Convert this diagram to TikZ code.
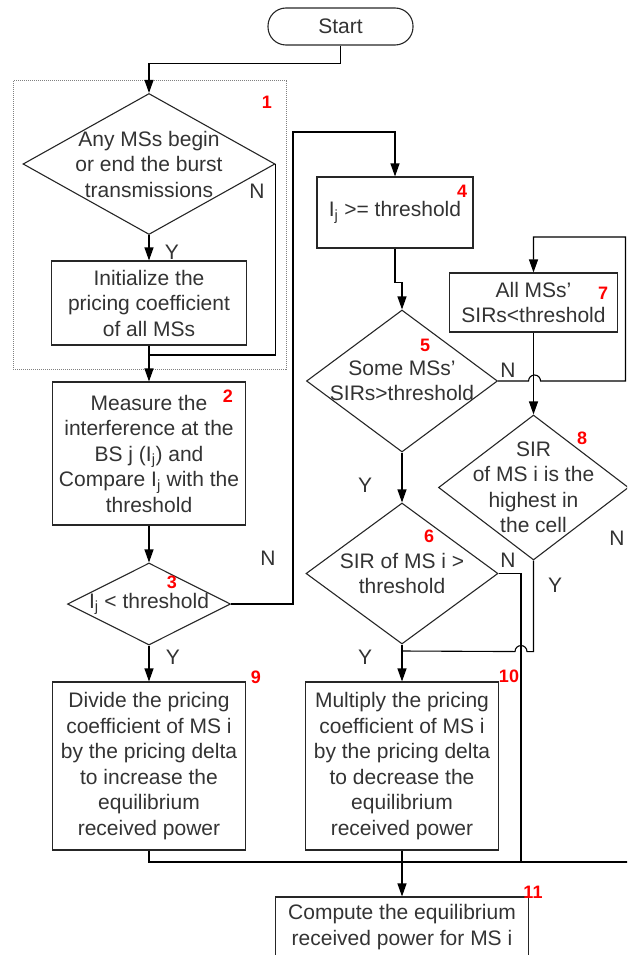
\documentclass[tikz,border=0pt]{standalone}
\usepackage{fontspec}
\setmainfont{Liberation Sans}
\usetikzlibrary{shapes.geometric,arrows.meta}

\begin{document}
\begin{tikzpicture}[x=1pt, y=-1pt,
  every node/.style={font=\fontsize{21}{25.5}\selectfont, text=black!80},
  terminal/.style={draw=black!85, line width=1.1pt, rounded corners=18pt, minimum width=145, minimum height=37, inner sep=0pt},
  proc/.style={draw=black!85, line width=1.1pt, rectangle, align=center, inner sep=0pt},
  decision/.style={draw=black!85, line width=1.1pt, diamond, inner sep=0pt},
  dtext/.style={align=center, inner sep=0pt},
  group/.style={draw=gray, densely dotted, line width=1pt, inner sep=0pt},
  tag/.style={font=\fontsize{18}{18}\selectfont\bfseries, text=red, inner sep=0pt},
  yn/.style={inner sep=0pt},
  line/.style={draw=black, line width=1.1pt},
  arr/.style={line, -{Triangle[length=13pt,width=9pt]}},
]
  \useasboundingbox (0,0) rectangle (627,955);
  \clip (0,0) rectangle (627,955);

  % Start
  \node[terminal] (start) at (340.5,26.5) {Start};

  % Step 1: burst check
  \node[group, minimum width=273, minimum height=288] (loop) at (149.5,225) {};
  \node[decision, minimum width=252, minimum height=141] (anyms) at (149,164) {};
  \node[dtext] (anymstxt) at (anyms.center) {Any MSs begin\\or end the burst\\transmissions};
  \node[proc, minimum width=195, minimum height=84] (init) at (149,303) {Initialize the\\pricing coefficient\\of all MSs};

  % Step 2 and 3
  \node[proc, minimum width=193, minimum height=143] (measure) at (149,453.5) {Measure the\\interference at the\\BS j (I\textsubscript{j}) and\\Compare I\textsubscript{j} with the\\threshold};
  \node[decision, minimum width=163, minimum height=82] (lessthr) at (149,604) {};
  \node[dtext] (lessthrtxt) at (lessthr.center) {I\textsubscript{j} < threshold};

  % Step 4 to 8
  \node[proc, minimum width=156, minimum height=71] (geqthr) at (395,212.5) {I\textsubscript{j} >= threshold};
  \node[decision, minimum width=191, minimum height=142] (somems) at (402,381) {};
  \node[dtext] (somemstxt) at (somems.center) {Some MSs'\\SIRs>threshold};
  \node[proc, minimum width=168, minimum height=59] (allms) at (533.5,302.5) {All MSs'\\SIRs<threshold};
  \node[decision, minimum width=192, minimum height=141] (sirms) at (402,573.5) {};
  \node[dtext] (sirmstxt) at (sirms.center) {SIR of MS i >\\threshold};
  \node[decision, minimum width=190, minimum height=145] (highest) at (533.5,487.5) {};
  \node[dtext] (highesttxt) at (highest.center) {SIR\\of MS i is the\\highest in\\the cell};

  % Step 9 to 11
  \node[proc, minimum width=193, minimum height=168] (divide) at (149,766) {Divide the pricing\\coefficient of MS i\\by the pricing delta\\to increase the\\equilibrium\\received power};
  \node[proc, minimum width=193, minimum height=168] (multiply) at (402,766) {Multiply the pricing\\coefficient of MS i\\by the pricing delta\\to decrease the\\equilibrium\\received power};
  \node[proc, minimum width=253, minimum height=60] (compute) at (402,927) {Compute the equilibrium\\received power for MS i};

  % Step numbers
  \node[tag] (t1) at (267,102) {1};
  \node[tag] (t2) at (228,396) {2};
  \node[tag] (t3) at (172,582) {3};
  \node[tag] (t4) at (462,191) {4};
  \node[tag] (t5) at (425,345) {5};
  \node[tag] (t6) at (429,536) {6};
  \node[tag] (t7) at (603,293) {7};
  \node[tag] (t8) at (582,438) {8};
  \node[tag] (t9) at (256,677) {9};
  \node[tag] (t10) at (509,676) {10};
  \node[tag] (t11) at (533,892) {11};

  % Y / N labels
  \node[yn] (ya) at (172,252) {Y};
  \node[yn] (na) at (257,191) {N};
  \node[yn] (nb) at (268,558) {N};
  \node[yn] (yb) at (173,657) {Y};
  \node[yn] (nc) at (508,370) {N};
  \node[yn] (yc) at (365,485) {Y};
  \node[yn] (nd) at (508,560) {N};
  \node[yn] (yd) at (365,657) {Y};
  \node[yn] (ye) at (555,585) {Y};
  \node[yn] (ne) at (617,538) {N};

  % Connectors
  \coordinate (join1) at (149,355);
  \coordinate (up3) at (293,132);
  \coordinate (edge5) at (625.5,237);
  \coordinate (join10) at (402,651);
  \coordinate (c6) at (521,862);
  \coordinate (join11) at (402,862);

  \draw[arr] (start.south) -- ++(0,18) -| (anyms.north);
  \draw[arr] (anyms.south) -- (init.north);
  \draw[line] (anyms.east) |- (join1);
  \draw[arr] (init.south) -- (measure.north);
  \draw[arr] (measure.south) -- (lessthr.north);
  \draw[arr] (lessthr.east) -| (up3) -| (geqthr.north);
  \draw[arr] (lessthr.south) -- (divide.north);
  \draw[arr] (geqthr.south) -- ++(0,34) -| (somems.north);
  \draw[arr] (somems.east) -- ++(30.5,0) arc[start angle=180, end angle=0, radius=6pt]
    -| (edge5) -| (allms.north);
  \draw[arr] (allms.south) -- (highest.north);
  \draw[arr] (somems.south) -- (sirms.north);
  \draw[line] (sirms.east) -| (c6);
  \draw[arr] (sirms.south) -- (multiply.north);
  \draw[line] (highest.south) -- ++(0,91) -- ++(-6.5,0)
    arc[start angle=0, end angle=180, radius=6pt] -- (join10);
  \draw[line] (highest.east) -- ++(20,0) |- (join11);
  \draw[line] (divide.south) |- (join11);
  \draw[arr] (multiply.south) -- (compute.north);
\end{tikzpicture}
\end{document}
